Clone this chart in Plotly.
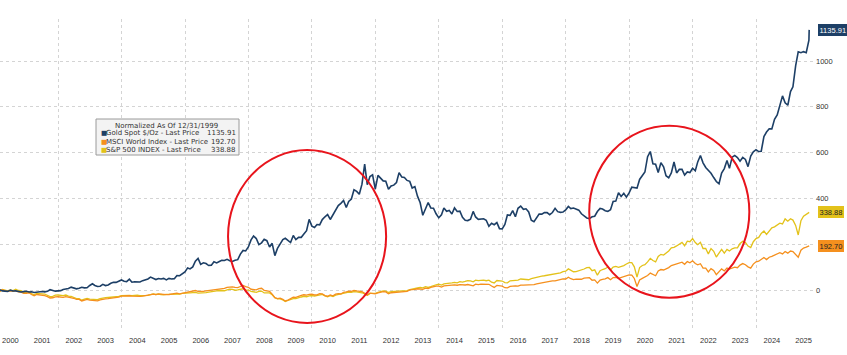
import pandas as pd
import plotly.graph_objects as go

# ---------------- data (month-end levels, first value = 12/31/1999 base) ----------------
gold_prices = [
    289.5,
    283, 293, 278, 275, 272, 288, 277, 278, 273, 264, 269, 274,        # 2000
    265, 267, 258, 264, 267, 270, 266, 273, 293, 279, 275, 279,        # 2001
    282, 297, 302, 308, 326, 318, 304, 312, 324, 317, 318, 347,        # 2002
    368, 347, 334, 337, 361, 346, 354, 375, 388, 386, 398, 416,        # 2003
    400, 396, 427, 388, 393, 395, 391, 408, 416, 429, 453, 438,        # 2004
    422, 435, 428, 436, 417, 436, 429, 433, 473, 470, 495, 517,        # 2005
    569, 556, 582, 654, 690, 614, 633, 624, 599, 604, 646, 632,        # 2006
    650, 665, 662, 678, 659, 650, 665, 673, 743, 790, 783, 834,        # 2007
    923, 972, 940, 864, 886, 930, 913, 833, 880, 724, 815, 870,        # 2008
    928, 943, 917, 890, 979, 926, 955, 955, 996, 1040, 1182, 1097,     # 2009
    1081, 1117, 1113, 1180, 1215, 1244, 1181, 1247, 1307, 1357, 1385, 1421,  # 2010
    1332, 1410, 1439, 1556, 1536, 1500, 1628, 1880, 1620, 1723, 1746, 1566,  # 2011
    1738, 1710, 1669, 1664, 1562, 1604, 1615, 1648, 1773, 1719, 1713, 1675,  # 2012
    1663, 1578, 1596, 1476, 1393, 1234, 1312, 1396, 1327, 1323, 1253, 1202,  # 2013
    1240, 1326, 1284, 1296, 1250, 1327, 1282, 1287, 1208, 1171, 1167, 1184,  # 2014
    1283, 1213, 1183, 1183, 1190, 1172, 1095, 1133, 1115, 1142, 1065, 1061,  # 2015
    1118, 1238, 1233, 1293, 1215, 1322, 1351, 1309, 1316, 1277, 1173, 1152,  # 2016
    1211, 1249, 1249, 1268, 1269, 1242, 1269, 1322, 1280, 1271, 1275, 1303,  # 2017
    1345, 1318, 1325, 1315, 1299, 1253, 1224, 1201, 1192, 1215, 1222, 1282,  # 2018
    1321, 1313, 1292, 1284, 1305, 1409, 1413, 1520, 1472, 1513, 1464, 1517,  # 2019
    1589, 1585, 1577, 1687, 1730, 1781, 1975, 2040, 1886, 1879, 1776, 1898,  # 2020
    1848, 1734, 1708, 1769, 1907, 1770, 1814, 1814, 1743, 1783, 1774, 1829,  # 2021
    1797, 1909, 1990, 1897, 1838, 1807, 1766, 1711, 1661, 1633, 1769, 1824,  # 2022
    1928, 1827, 1969, 1990, 1963, 1919, 1965, 1940, 1849, 1983, 2036, 2063,  # 2023
    2040, 2044, 2230, 2286, 2327, 2326, 2448, 2503, 2635, 2744, 2657, 2625,  # 2024
    2798, 2858, 3124, 3300, 3289, 3303, 3290, 3448, 3577.96,                 # 2025
]

msci_prices = [
    1420.88,
    1349, 1354, 1433, 1373, 1336, 1372, 1334, 1378, 1306, 1286, 1207, 1221,  # 2000
    1250, 1143, 1066, 1140, 1122, 1083, 1066, 1014, 924, 941, 997, 1003,     # 2001
    971, 963, 1004, 968, 968, 909, 834, 835, 743, 798, 842, 792,             # 2002
    767, 751, 744, 810, 857, 872, 889, 908, 912, 965, 978, 1036,             # 2003
    1053, 1071, 1064, 1039, 1047, 1068, 1032, 1036, 1053, 1078, 1129, 1169,  # 2004
    1139, 1178, 1150, 1126, 1137, 1142, 1182, 1191, 1225, 1187, 1224, 1258,  # 2005
    1320, 1320, 1346, 1390, 1335, 1330, 1337, 1370, 1389, 1435, 1472, 1483,  # 2006
    1501, 1497, 1522, 1587, 1626, 1617, 1582, 1569, 1640, 1700, 1627, 1588,  # 2007
    1467, 1459, 1432, 1510, 1529, 1403, 1367, 1339, 1167, 948, 890, 920,     # 2008
    836, 743, 797, 886, 971, 967, 1044, 1085, 1126, 1105, 1152, 1158,        # 2009
    1111, 1124, 1196, 1183, 1071, 1034, 1110, 1063, 1159, 1200, 1174, 1280,  # 2010
    1309, 1350, 1336, 1397, 1364, 1340, 1316, 1224, 1106, 1225, 1187, 1183,  # 2011
    1244, 1302, 1317, 1302, 1189, 1250, 1264, 1295, 1332, 1339, 1356, 1338,  # 2012
    1428, 1427, 1454, 1497, 1499, 1463, 1541, 1506, 1582, 1643, 1667, 1661,  # 2013
    1601, 1677, 1680, 1695, 1728, 1743, 1718, 1753, 1723, 1733, 1762, 1710,  # 2014
    1681, 1780, 1751, 1790, 1790, 1748, 1776, 1669, 1581, 1705, 1694, 1663,  # 2015
    1563, 1551, 1647, 1670, 1678, 1657, 1727, 1725, 1735, 1701, 1724, 1751,  # 2016
    1799, 1849, 1870, 1897, 1937, 1944, 1988, 1991, 2030, 2071, 2111, 2103,  # 2017
    2216, 2121, 2071, 2092, 2093, 2089, 2155, 2179, 2184, 2028, 2050, 1850,  # 2018
    2031, 2086, 2108, 2188, 2056, 2191, 2200, 2146, 2202, 2256, 2317, 2359,  # 2019
    2344, 2136, 1640, 2045, 2141, 2207, 2318, 2468, 2381, 2305, 2603, 2690,  # 2020
    2662, 2731, 2811, 2940, 2982, 3017, 3069, 3143, 3014, 3182, 3110, 3231,  # 2021
    3062, 2982, 3053, 2780, 2778, 2546, 2746, 2634, 2378, 2555, 2730, 2603,  # 2022
    2785, 2717, 2791, 2835, 2805, 2967, 3061, 2989, 2859, 2780, 3029, 3169,  # 2023
    3206, 3337, 3437, 3307, 3454, 3511, 3573, 3667, 3736, 3662, 3810, 3708,  # 2024
    3838, 3808, 3653, 3450, 3891, 4026, 4079, 4181, 4158.92,                 # 2025
]

spx_prices = [
    1469.25,
    1394, 1366, 1499, 1452, 1421, 1455, 1431, 1518, 1437, 1429, 1315, 1320,  # 2000
    1366, 1240, 1160, 1249, 1256, 1224, 1211, 1134, 1041, 1060, 1139, 1148,  # 2001
    1130, 1107, 1147, 1077, 1067, 990, 912, 916, 815, 886, 936, 880,         # 2002
    856, 841, 848, 917, 964, 975, 990, 1008, 996, 1051, 1058, 1112,          # 2003
    1131, 1145, 1126, 1107, 1121, 1141, 1102, 1104, 1115, 1130, 1174, 1212,  # 2004
    1181, 1204, 1181, 1157, 1192, 1191, 1234, 1220, 1229, 1207, 1249, 1248,  # 2005
    1280, 1281, 1295, 1311, 1270, 1270, 1277, 1304, 1336, 1378, 1401, 1418,  # 2006
    1438, 1407, 1421, 1482, 1531, 1503, 1455, 1474, 1527, 1549, 1481, 1468,  # 2007
    1379, 1331, 1323, 1386, 1400, 1280, 1267, 1283, 1166, 969, 896, 903,     # 2008
    826, 735, 798, 873, 919, 919, 987, 1021, 1057, 1036, 1096, 1115,         # 2009
    1074, 1104, 1169, 1187, 1089, 1031, 1102, 1049, 1141, 1183, 1181, 1258,  # 2010
    1286, 1327, 1326, 1364, 1345, 1321, 1292, 1219, 1131, 1253, 1247, 1258,  # 2011
    1312, 1366, 1408, 1398, 1310, 1362, 1379, 1407, 1441, 1412, 1416, 1426,  # 2012
    1498, 1515, 1569, 1598, 1631, 1606, 1686, 1633, 1682, 1757, 1806, 1848,  # 2013
    1783, 1859, 1872, 1884, 1924, 1960, 1931, 2003, 1972, 2018, 2068, 2059,  # 2014
    1995, 2105, 2068, 2086, 2107, 2063, 2104, 1972, 1920, 2079, 2080, 2044,  # 2015
    1940, 1932, 2060, 2065, 2097, 2099, 2174, 2171, 2168, 2126, 2199, 2239,  # 2016
    2279, 2364, 2363, 2384, 2412, 2423, 2470, 2472, 2519, 2575, 2648, 2674,  # 2017
    2824, 2714, 2641, 2648, 2705, 2718, 2816, 2902, 2914, 2712, 2760, 2420,  # 2018
    2704, 2784, 2834, 2946, 2752, 2942, 2980, 2926, 2977, 3038, 3141, 3231,  # 2019
    3226, 2954, 2300, 2912, 3044, 3100, 3271, 3500, 3363, 3270, 3622, 3756,  # 2020
    3714, 3811, 3973, 4181, 4204, 4298, 4395, 4523, 4308, 4605, 4567, 4766,  # 2021
    4516, 4374, 4530, 4132, 4132, 3785, 4130, 3955, 3586, 3872, 4080, 3840,  # 2022
    4077, 3970, 4109, 4169, 4180, 4450, 4589, 4508, 4288, 4194, 4568, 4770,  # 2023
    4846, 5096, 5254, 5036, 5278, 5460, 5522, 5648, 5762, 5705, 6032, 5882,  # 2024
    6041, 5955, 5612, 5000, 5912, 6205, 6339, 6460, 6448.24,                 # 2025
]

series_names = [
    "Gold Spot $/Oz - Last Price",
    "MSCI World Index - Last Price",
    "S&P 500 INDEX - Last Price",
]
year_labels = [str(y) for y in range(2000, 2026)]
y_ticks = [0, 200, 400, 600, 800, 1000]
y_tick_text = ["0", "", "400", "600", "800", "1000"]   # 200 is hidden behind the MSCI tag
legend_title = "Normalized As Of 12/31/1999"

# ---------------- styling ----------------
GOLD_C = "#1d3f66"
MSCI_C = "#f5901e"
SPX_C = "#e3c21a"
GRID_C = "#d4d4d4"
FONT = "Liberation Sans"
LEG_FONT = "DejaVu Sans"

dates = list(pd.date_range("1999-12-31", "2025-08-31", freq="ME")) + [pd.Timestamp("2025-09-03")]


def normalize(levels):
    base = levels[0]
    return [(v / base - 1.0) * 100.0 for v in levels]


gold = normalize(gold_prices)
msci = normalize(msci_prices)
spx = normalize(spx_prices)

fig = go.Figure()
for vals, color, width in [(spx, SPX_C, 1.3), (msci, MSCI_C, 1.3), (gold, GOLD_C, 1.6)]:
    fig.add_trace(go.Scatter(x=dates, y=vals, mode="lines",
                             line=dict(color=color, width=width),
                             showlegend=False, hoverinfo="skip"))

W, H = 847, 355
ML, MR, MT, MB = 0, 32, 19, 27
pw, ph = W - ML - MR, H - MT - MB


def px_x(px):
    return (px - ML) / pw


def px_y(py):
    return (H - MB - py) / ph


fig.update_layout(
    width=W, height=H,
    margin=dict(l=ML, r=MR, t=MT, b=MB, autoexpand=False),
    paper_bgcolor="white", plot_bgcolor="white",
    font=dict(family=FONT, size=8, color="#333333"),
    xaxis=dict(
        type="date", automargin=False,
        range=["2000-03-03", "2025-11-09"],
        tickmode="array",
        tickvals=[f"{y}-07-01" for y in year_labels],
        ticktext=year_labels,
        showgrid=False, zeroline=False, showline=False,
        ticks="outside", ticklen=5, tickcolor="rgba(0,0,0,0)",
        tickfont=dict(size=7.5, color="#333333"),
        minor=dict(tickmode="array",
                   tickvals=[f"{y}-01-01" for y in range(2002, 2026, 2)],
                   showgrid=True, gridcolor=GRID_C, griddash="dot", gridwidth=1,
                   ticks=""),
    ),
    yaxis=dict(
        side="right", automargin=False,
        range=[-165.9, 1183.4],
        tickmode="array", tickvals=y_ticks, ticktext=y_tick_text,
        showgrid=True, gridcolor=GRID_C, griddash="dot", gridwidth=1,
        zeroline=False, showline=False,
        ticks="",
        tickfont=dict(size=7.5, color="#333333"),
    ),
)

# red highlight circles
highlights = [
    dict(x0="2007-05-11", x1="2012-05-04", y0=-144, y1=611),
    dict(x0="2018-09-28", x1="2023-10-15", y0=-34, y1=717),
]
for h in highlights:
    fig.add_shape(type="circle", xref="x", yref="y", **h,
                  line=dict(color="#e8141c", width=2), layer="above")

# last-value tags on the right axis
tags = [(gold, GOLD_C, "white"), (spx, SPX_C, "#222222"), (msci, MSCI_C, "#222222")]
for vals, bg, fc in tags:
    fig.add_annotation(xref="paper", yref="y", x=1, y=vals[-1], xanchor="left", yanchor="middle",
                       xshift=3, text=f"{vals[-1]:.2f}", showarrow=False,
                       bgcolor=bg, bordercolor=bg, borderpad=0.5,
                       font=dict(family=FONT, size=7.5, color=fc))

# legend box
fig.add_shape(type="rect", xref="paper", yref="paper",
              x0=px_x(96), x1=px_x(239), y0=px_y(155), y1=px_y(119),
              fillcolor="#f3f3f3", line=dict(color="#9a9a9a", width=1), layer="above")
fig.add_annotation(xref="paper", yref="paper", x=px_x(166), y=px_y(126),
                   xanchor="center", yanchor="middle", text=legend_title, showarrow=False,
                   font=dict(family=LEG_FONT, size=7, color="#333333"))
rows = [(series_names[0], gold, GOLD_C), (series_names[1], msci, MSCI_C), (series_names[2], spx, SPX_C)]
for i, (nm, vals, col) in enumerate(rows):
    yy = px_y(133.2 + i * 8.3)
    fig.add_annotation(xref="paper", yref="paper", x=px_x(98.5), y=yy, xanchor="left", yanchor="middle",
                       text="■", showarrow=False, font=dict(family=LEG_FONT, size=6.5, color=col))
    fig.add_annotation(xref="paper", yref="paper", x=px_x(103.5), y=yy, xanchor="left", yanchor="middle",
                       text=nm, showarrow=False, font=dict(family=LEG_FONT, size=7, color="#333333"))
    fig.add_annotation(xref="paper", yref="paper", x=px_x(237.5), y=yy, xanchor="right", yanchor="middle",
                       text=f"{vals[-1]:.2f}", showarrow=False, font=dict(family=LEG_FONT, size=7, color="#333333"))

fig.write_html("out.html",
               config={"displayModeBar": False},
               post_script="document.body.style.margin='0';document.body.style.padding='0';")
